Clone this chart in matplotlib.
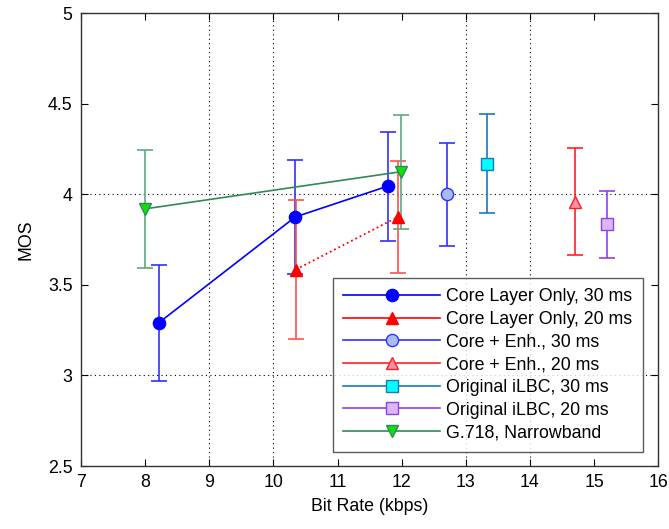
import matplotlib
matplotlib.use("Agg")
import matplotlib.pyplot as plt
from matplotlib.lines import Line2D

plt.rcParams['font.family'] = ['Liberation Sans', 'DejaVu Sans']

# Core layer only, 30 ms frames
core30_rate = [8.21, 10.34, 11.78]
core30_mos = [3.29, 3.875, 4.045]
core30_err = [0.32, 0.315, 0.30]

# Core layer only, 20 ms frames
core20_rate = [10.35, 11.94]
core20_mos = [3.585, 3.875]
core20_err = [0.385, 0.31]

# Core + enhancement layers
enh30_rate = [12.70]
enh30_mos = [4.0]
enh30_err = [0.285]

enh20_rate = [14.70]
enh20_mos = [3.96]
enh20_err = [0.295]

# Original iLBC
ilbc30_rate = [13.33]
ilbc30_mos = [4.17]
ilbc30_err = [0.275]

ilbc20_rate = [15.20]
ilbc20_mos = [3.835]
ilbc20_err = [0.185]

# G.718 narrowband
g718_rate = [8.0, 11.99]
g718_mos = [3.92, 4.125]
g718_err = [0.325, 0.315]

legend_labels = ["Core Layer Only, 30 ms", "Core Layer Only, 20 ms",
                 "Core + Enh., 30 ms", "Core + Enh., 20 ms",
                 "Original iLBC, 30 ms", "Original iLBC, 20 ms",
                 "G.718, Narrowband"]

x_ticks = [7, 8, 9, 10, 11, 12, 13, 14, 15, 16]
y_ticks = [2.5, 3, 3.5, 4, 4.5, 5]
grid_x = [9, 10, 13, 14]
grid_y = [3, 4]

FS = 12.8

fig = plt.figure(figsize=(6.69, 5.29), dpi=100)
ax = fig.add_axes([0.121, 0.119, 0.863, 0.856])

for gx in grid_x:
    ax.axvline(gx, color='black', lw=0.8, ls=(0, (1, 3)), zorder=0)
for gy in grid_y:
    ax.axhline(gy, color='black', lw=0.8, ls=(0, (1, 3)), zorder=0)

cap = 6
ms = 8.8

styles = [
    # rate, mos, err, line colour, err colour, marker, face, edge, connecting style
    (core30_rate, core30_mos, core30_err, '#0000ff', '#3030ff', 'o', '#0000ff', '#0000ff', '-'),
    (core20_rate, core20_mos, core20_err, '#ff0000', '#ff5050', '^', '#ff0000', '#ff0000', ':'),
    (enh30_rate, enh30_mos, enh30_err, '#3030ff', '#3030ff', 'o', '#a8bcf8', '#3030ff', '-'),
    (enh20_rate, enh20_mos, enh20_err, '#ff2020', '#ff2020', '^', '#f590a8', '#ff2020', '-'),
    (ilbc30_rate, ilbc30_mos, ilbc30_err, '#1878c0', '#1878c0', 's', '#00ffff', '#1878c0', '-'),
    (ilbc20_rate, ilbc20_mos, ilbc20_err, '#9040e8', '#9040e8', 's', '#d8b8f8', '#9040e8', '-'),
    (g718_rate, g718_mos, g718_err, '#2e8b57', '#5fa884', 'v', '#10e010', '#2e8b57', '-'),
]

handles = []
for rate, mos, err, lc, ec, mk, fc, edge, ls in styles:
    ax.errorbar(rate, mos, yerr=err, fmt='none', ecolor=ec, elinewidth=1.2,
                capsize=cap, capthick=1.2, zorder=2)
    ax.plot(rate, mos, color=lc, lw=1.2 if ls == '-' else 1.3, ls=ls,
            marker=mk, markersize=ms, markerfacecolor=fc,
            markeredgecolor=edge, markeredgewidth=1.0, zorder=3)
    handles.append(Line2D([], [], color=lc, lw=1.2, marker=mk, markersize=ms,
                          markerfacecolor=fc, markeredgecolor=edge,
                          markeredgewidth=1.0))

ax.set_xlim(7, 16)
ax.set_ylim(2.5, 5)
ax.set_xticks(x_ticks)
ax.set_xticklabels([str(t) for t in x_ticks])
ax.set_yticks(y_ticks)
ax.set_yticklabels(['2.5', '3', '3.5', '4', '4.5', '5'])
ax.tick_params(direction='in', length=5, width=0.8, top=True, right=True,
               labelsize=FS, pad=6, colors='black')
for sp in ax.spines.values():
    sp.set_linewidth(1.0)
    sp.set_color('#333333')

ax.set_xlabel('Bit Rate (kbps)', fontsize=FS, labelpad=5)
ax.set_ylabel('MOS', fontsize=FS, labelpad=10)

leg = ax.legend(handles, legend_labels, loc='lower right',
                bbox_to_anchor=(0.974, 0.031), fontsize=FS, frameon=True,
                fancybox=False, handlelength=5.45, handletextpad=0.35,
                labelspacing=0.32, borderpad=0.6, borderaxespad=0.0)
leg.get_frame().set_edgecolor('#333333')
leg.get_frame().set_linewidth(1.0)

fig.savefig('out.png', dpi=100)
